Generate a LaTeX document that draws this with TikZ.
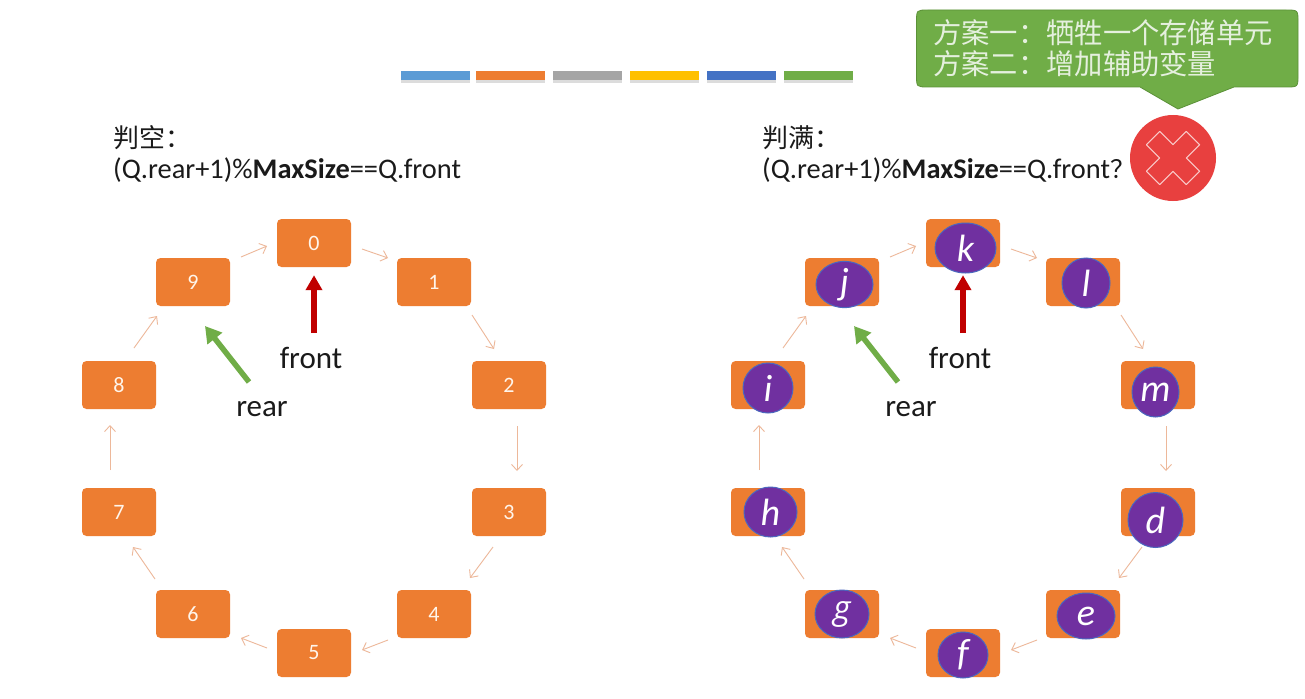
\documentclass[tikz,border=0pt]{standalone}
\usepackage{fontspec}
\setmainfont{Carlito}
\newfontfamily\cjk{Noto Sans CJK SC}
\newfontfamily\altitalic{Open Sans}
\usetikzlibrary{arrows.meta,shadows,calc,shapes.geometric}
\definecolor{boxorange}{HTML}{ED7D31}
\definecolor{linkorange}{HTML}{EDB89A}
\definecolor{inkpurple}{HTML}{7030A0}
\definecolor{rimblue}{HTML}{4472C4}
\definecolor{leaf}{HTML}{70AD47}
\definecolor{leafdark}{HTML}{5B9138}
\definecolor{alarm}{HTML}{E8403F}
\definecolor{crimson}{HTML}{C00000}
\definecolor{inktext}{HTML}{1A1A1A}
\tikzset{
  x=1pt,y=-1pt,
  cell/.style={draw=none,fill=boxorange,rounded corners=4.5pt,minimum width=74pt,minimum height=48pt,inner sep=0pt,
    text=white!92!orange,font=\fontsize{22}{22}\selectfont},
  token/.style={draw=rimblue!85!inkpurple,line width=1pt,fill=inkpurple,ellipse,inner sep=0pt,text=white,
    font=\fontsize{38}{38}\selectfont\itshape},
  link/.style={draw=linkorange,line width=0.9pt,-{Straight Barb[length=6pt,width=11pt,line width=0.9pt]}},
  heading/.style={anchor=west,inner sep=0pt,text=inktext,font=\fontsize{28.4}{31}\selectfont,align=left},
  pointer/.style={anchor=center,inner sep=0pt,text=inktext,font=\fontsize{31}{31}\selectfont},
  bar/.style={minimum width=69pt,minimum height=9pt,inner sep=0pt,draw=none,
    general shadow={fill=black!45,opacity=0.3,shadow yshift=-3pt}},
  redptr/.style={draw=crimson,line width=5.5pt,-{Triangle[length=15pt,width=16pt]}},
  greenptr/.style={draw=leaf,line width=5.5pt,-{Triangle[length=16pt,width=18pt]}},
}
\newcommand{\hop}[6]{\draw[link] ([shift={(#2,#3)}]#1.center) -- ([shift={(#5,#6)}]#4.center);}
% Ten cells on a ring; #1 is the name prefix of the ring
\newcommand{\ringlinks}[1]{
  \hop{#10}{48}{6}{#11}{-46}{-24}
  \hop{#11}{38}{33}{#12}{-15}{-36}
  \hop{#12}{8}{41}{#13}{8}{-41}
  \hop{#13}{-16}{35}{#14}{36}{-36}
  \hop{#14}{-46}{26}{#15}{48}{-3}
  \hop{#15}{-47}{-5}{#16}{48}{24}
  \hop{#16}{-38}{-35}{#17}{14}{35}
  \hop{#17}{-9}{-42}{#18}{-9}{40}
  \hop{#18}{15}{-37}{#19}{-36}{34}
  \hop{#19}{48}{-25}{#10}{-47}{3}
}
\begin{document}
\begin{tikzpicture}
\useasboundingbox (0,0) rectangle (1305,698);
\fill[white] (0,0) rectangle (1305,698);

% colour strip
\foreach \nm/\xx/\cc in {barA/435/5B9BD5,barB/510.5/ED7D31,barC/587.5/A5A5A5,barD/664.5/FFC000,barE/741.5/4472C4,barF/818.5/70AD47}{
  \definecolor{barcol}{HTML}{\cc}
  \node[bar,fill=barcol] (\nm) at (\xx,75.5) {};
}

% left ring: empty queue
\node[heading] (emptyA) at (113,138) {{\cjk\fontsize{26}{31}\selectfont 判空：}};
\node[heading] (emptyB) at (113,170) {(Q.rear+1)\%\textbf{MaxSize}==Q.front};
\foreach \nm/\xx/\yy in {0/314/243,1/434/282,2/509/385,3/509/512,4/434/614,5/314/653,6/193/614,7/119/512,8/119/385,9/193/282}{
  \node[cell] (a\nm) at (\xx,\yy) {\nm};
}
\ringlinks{a}
\node[pointer] (afront) at (311,358) {front};
\node[pointer] (arear) at (262,409) {rear};
\coordinate (afronttail) at (314,333);
\coordinate (areartail) at (249,382);
\coordinate (areartip) at (205,326);
\draw[redptr] (afronttail) -- ([shift={(0,8)}]a0.south);
\draw[greenptr] (areartail) -- (areartip);

% right ring: full queue
\node[heading] (fullA) at (762,138) {{\cjk\fontsize{26}{31}\selectfont 判满：}};
\node[heading] (fullB) at (762,170) {(Q.rear+1)\%\textbf{MaxSize}==Q.front{\cjk\fontsize{25}{31}\selectfont ？}};
\foreach \nm/\xx/\yy in {0/963/243,1/1083/282,2/1158/385,3/1158/512,4/1083/614,5/963/653,6/842/614,7/768/512,8/768/385,9/842/282}{
  \node[cell] (b\nm) at (\xx,\yy) {};
}
\ringlinks{b}
\foreach \nm/\xx/\yy/\ww/\hh/\tt in {
  k/965.5/248/61/50/k,l/1086/283/48/50/l,m/1155.5/392/47/50/m,d/1155.5/520/55/55/d,e/1086/616/58/46/e,
  f/963/655/50/46/f,g/842/614/54/48/{\altitalic\fontsize{33}{33}\selectfont g},h/770.5/512/53/50/h,i/768/388/50/50/i,j/844.5/284.5/57/45/j}{
  \node[token,minimum width=\ww pt,minimum height=\hh pt] (tok\nm) at (\xx,\yy) {\tt};
}
\node[pointer] (bfront) at (960,358) {front};
\node[pointer] (brear) at (911,409) {rear};
\coordinate (bfronttail) at (963,333);
\coordinate (breartail) at (898,382);
\coordinate (breartip) at (854,326);
\draw[redptr] (bfronttail) -- ([shift={(0,8)}]b0.south);
\draw[greenptr] (breartail) -- (breartip);

% speech bubble with a sharp tail
\draw[fill=leaf,draw=leafdark,line width=0.8pt,line join=round]
  (928,10) -- (1286,10) .. controls (1298,10) .. (1298,22) -- (1298,75) .. controls (1298,87) .. (1286,87)
  -- (1234,87) -- (1178,109) -- (1140,87) -- (928,87) .. controls (916.5,87) .. (916.5,75) -- (916.5,22) .. controls (916.5,10) .. (928,10) -- cycle;
\node[inner sep=0pt,anchor=west,text=white!82!leaf,align=left,font=\cjk\fontsize{28.3}{31}\selectfont] (plans) at (933,48)
  {方案一：牺牲一个存储单元\\方案二：增加辅助变量};

% cancel badge
\node[circle,fill=alarm,minimum size=86pt,inner sep=0pt] (badge) at (1173,158) {};
\draw[draw=white!72!alarm,line width=1.1pt,line join=round,shift={(badge.center)},x=13.3pt,y=-13.3pt]
  (-2,-1) -- (-1,-2) -- (0,-1) -- (1,-2) -- (2,-1) -- (1,0) -- (2,1) -- (1,2) -- (0,1) -- (-1,2) -- (-2,1) -- (-1,0) -- cycle;
\end{tikzpicture}
\end{document}
